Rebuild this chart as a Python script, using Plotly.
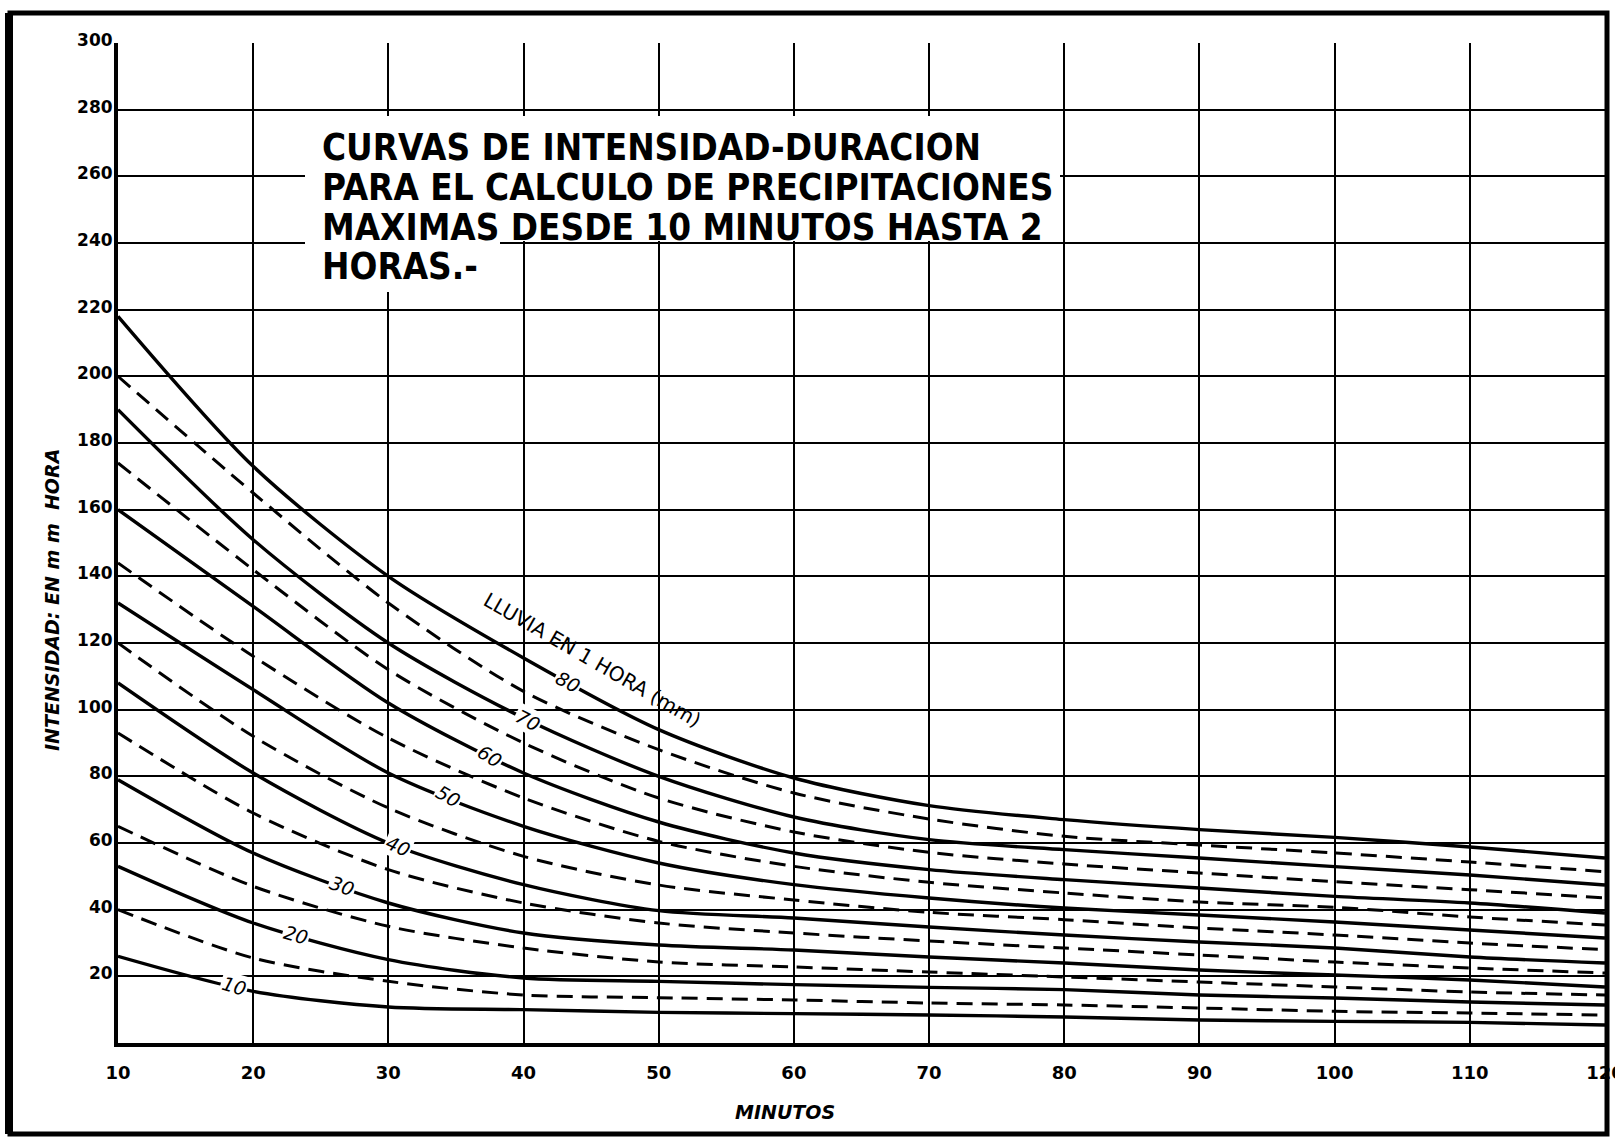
import numpy as np
import plotly.graph_objects as go

# ---------------- data ----------------
minutes = [10, 20, 30, 40, 50, 60, 70, 80, 90, 100, 110, 120]

# intensity (mm/hora) for each "lluvia en 1 hora" depth (mm)
i10 = [26, 15.5, 10.8, 10, 9.2, 8.8, 8.4, 7.8, 6.9, 6.5, 6.2, 5.4]
i15 = [40, 25.5, 18.5, 14.4, 13.6, 12.9, 12, 11.4, 10.5, 9.5, 9, 8.4]
i20 = [53, 36, 25, 19.5, 18.5, 17.5, 16.7, 16, 14.4, 13.5, 12.3, 11.4]
i25 = [65, 47, 35, 28.5, 24.3, 22.8, 21.3, 19.8, 18.3, 16.8, 15.3, 14.4]
i30 = [79, 57, 42, 33, 29.4, 27.9, 25.8, 24, 21.9, 20.4, 18.9, 16.8]
i35 = [93, 69, 52, 42, 36, 33, 30.6, 28.5, 26.4, 24.3, 22.5, 21]
i40 = [108, 81, 60, 47.5, 39.7, 37.5, 34.8, 32.4, 30.3, 28.5, 25.8, 24]
i45 = [120, 92, 70.5, 56, 47.4, 42.9, 39.2, 37, 34.5, 32.4, 30, 28]
i50 = [132, 106, 81, 65, 54, 47.5, 43.5, 40.5, 38.4, 36.3, 33.9, 31.5]
i55 = [144, 116, 91.5, 73.5, 60.5, 53, 48.2, 45, 42.3, 40.7, 37.8, 35.4]
i60 = [160, 131, 102, 81, 66.3, 57, 52, 49, 46.5, 44, 42, 39]
i65 = [174, 142, 112, 90, 73.5, 63.3, 57.2, 53.7, 51, 48.4, 46, 43.5]
i70 = [190, 151, 120, 97.5, 80, 67.8, 61, 58, 55.5, 52.9, 50.4, 47.4]
i75 = [200, 165, 132, 105.5, 88, 75, 67.2, 62, 59.4, 57, 54.3, 51.4]
i80 = [218, 173, 140, 115.5, 94, 79.5, 71.2, 67, 64, 61.7, 58.8, 55.5]

depths = [10, 15, 20, 25, 30, 35, 40, 45, 50, 55, 60, 65, 70, 75, 80]
series = [i10, i15, i20, i25, i30, i35, i40, i45, i50, i55, i60, i65, i70, i75, i80]

x_ticks = [10, 20, 30, 40, 50, 60, 70, 80, 90, 100, 110, 120]
y_ticks = [20, 40, 60, 80, 100, 120, 140, 160, 180, 200, 220, 240, 260, 280, 300]

title_lines = [
    "CURVAS DE INTENSIDAD-DURACION",
    "PARA EL CALCULO DE PRECIPITACIONES",
    "MAXIMAS DESDE 10 MINUTOS HASTA 2",
    "HORAS.-",
]

# ---------------- styling / layout ----------------
W, H = 1615, 1140
ML, MR, MT, MB = 118, 10, 43, 97
PW, PH = W - ML - MR, H - MT - MB


def px_x(p):  # pixel -> paper
    return (p - ML) / PW


def px_y(p):
    return (H - MB - p) / PH


fig = go.Figure()

for d, vals in zip(depths, series):
    solid = d % 10 == 0
    fig.add_trace(go.Scatter(
        x=minutes, y=vals, mode="lines", name=f"{d} mm",
        line=dict(color="black", width=3.4 if solid else 3.0,
                  dash="solid" if solid else "16px,9px",
                  shape="spline", smoothing=0.8),
        showlegend=False, hoverinfo="x+y",
    ))

# curve labels (placed on the curves)
label_x = {10: 18.6, 20: 23.2, 30: 26.6, 40: 30.7, 50: 34.4, 60: 37.5, 70: 40.3, 80: 43.3}
label_angle = {10: 16, 20: 16, 30: 20, 40: 24, 50: 30, 60: 33, 70: 28, 80: 28}
annotations = []
for d, vals in zip(depths, series):
    if d in label_x:
        lx = label_x[d]
        ly = float(np.interp(lx, minutes, vals))
        annotations.append(dict(
            x=lx, y=ly, xref="x", yref="y", text=str(d), showarrow=False,
            textangle=label_angle[d], bgcolor="white", borderpad=1,
            font=dict(family="DejaVu Sans", size=19, color="black", style="italic"),
        ))

annotations.append(dict(
    x=45.1, y=115, xref="x", yref="y", text="LLUVIA EN 1 HORA (mm)", showarrow=False,
    textangle=30, font=dict(family="DejaVu Sans", size=20, color="black"),
))

# title block
title_y = [147, 187, 227, 266]
for t, py in zip(title_lines, title_y):
    annotations.append(dict(
        x=px_x(320), y=px_y(py), xref="paper", yref="paper", xanchor="left", yanchor="middle",
        text=t, showarrow=False,
        font=dict(family="DejaVu Sans Condensed, Liberation Sans Narrow, DejaVu Sans",
                  size=36.5, color="black", weight="bold"),
    ))

# axis titles
annotations.append(dict(
    x=px_x(52), y=px_y(600), xref="paper", yref="paper", xanchor="center", yanchor="middle",
    text="INTENSIDAD: EN m m  HORA",
    showarrow=False, textangle=-90,
    font=dict(family="DejaVu Sans", size=19, color="black", weight="bold", style="italic"),
))
annotations.append(dict(
    x=px_x(785), y=px_y(1112), xref="paper", yref="paper", xanchor="center", yanchor="middle",
    text="MINUTOS", showarrow=False,
    font=dict(family="DejaVu Sans", size=19, color="black", weight="bold", style="italic"),
))

shapes = [
    # white patch behind the title (masks the grid)
    dict(type="rect", xref="paper", yref="paper", x0=px_x(305), x1=px_x(1060),
         y0=px_y(241), y1=px_y(116), fillcolor="white", line=dict(width=0), layer="above"),
    dict(type="rect", xref="paper", yref="paper", x0=px_x(305), x1=px_x(500),
         y0=px_y(292), y1=px_y(241), fillcolor="white", line=dict(width=0), layer="above"),
    # outer frame
    dict(type="rect", xref="paper", yref="paper", x0=px_x(10), x1=px_x(1607),
         y0=px_y(1134), y1=px_y(13), line=dict(color="black", width=5),
         fillcolor="rgba(0,0,0,0)", layer="above"),
    dict(type="line", xref="paper", yref="paper", x0=px_x(9), x1=px_x(9),
         y0=px_y(1134), y1=px_y(13), line=dict(color="black", width=8), layer="above"),
]

fig.update_layout(
    width=W, height=H, autosize=False,
    margin=dict(l=ML, r=MR, t=MT, b=MB, pad=0, autoexpand=False),
    paper_bgcolor="white", plot_bgcolor="white",
    annotations=annotations, shapes=shapes,
    showlegend=False,
)

fig.update_xaxes(
    range=[10, 120.001], tickvals=x_ticks, ticktext=[str(v) for v in x_ticks],
    showgrid=True, gridcolor="black", gridwidth=2,
    showline=True, linecolor="black", linewidth=4, mirror=False,
    zeroline=False, ticks="", ticklabelstandoff=10, ticklabeloverflow="allow",
    automargin=False,
    tickfont=dict(family="DejaVu Sans", size=18, color="black", weight="bold"),
)
fig.update_yaxes(
    range=[0, 300], tickvals=y_ticks, ticktext=[str(v) for v in y_ticks],
    showgrid=True, gridcolor="black", gridwidth=2,
    showline=True, linecolor="black", linewidth=4, mirror=False,
    zeroline=False, ticks="", ticklabelstandoff=-2, ticklabelshift=-3,
    automargin=False,
    tickfont=dict(family="DejaVu Sans", size=17, color="black", weight="bold"),
)

fig.write_html("out.html", config={"displayModeBar": False},
               post_script="document.body.style.margin='0';")
